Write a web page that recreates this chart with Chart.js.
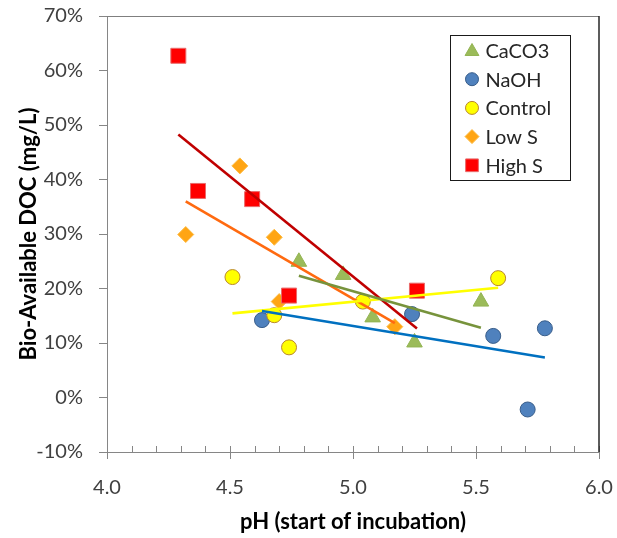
<!DOCTYPE html>
<html>
<head>
<meta charset="utf-8">
<title>Bio-Available DOC vs pH</title>
<script src="https://cdn.jsdelivr.net/npm/chart.js"></script>
<style>
  html, body { margin: 0; padding: 0; background: #ffffff; }
  canvas { display: block; }
</style>
</head>
<body>
<canvas id="docChart" width="617" height="538"></canvas>
<script>
// pH at the start of incubation and bio-available DOC (%) per treatment
var caco3PH   = [4.78, 4.96, 5.08, 5.25, 5.52];
var caco3DOC  = [24.9, 22.5, 14.7, 10.1, 17.6];
var naohPH    = [4.63, 5.24, 5.57, 5.71, 5.78];
var naohDOC   = [14.2, 15.3, 11.3, -2.2, 12.7];
var controlPH = [4.51, 4.68, 4.74, 5.04, 5.59];
var controlDOC = [22.1, 15.1, 9.2, 17.6, 21.9];
var lowSPH    = [4.32, 4.54, 4.68, 4.70, 5.17];
var lowSDOC   = [29.9, 42.5, 29.4, 17.6, 13.0];
var highSPH   = [4.29, 4.37, 4.59, 4.74, 5.26];
var highSDOC  = [62.7, 37.9, 36.4, 18.7, 19.6];

var xTicks = { min: 4.0, max: 6.0, step: 0.1, labelEvery: 0.5 };
var yTicks = { min: -10, max: 70, step: 10 };

var FONT = 'Lato, "Open Sans", sans-serif';
var AXIS_GRAY = '#868686';

// marker and trendline look for each treatment
var series = [
  { label: 'CaCO3',   x: caco3PH,   y: caco3DOC,   shape: 'triangle', r: 9,    fill: '#9BBB59', edge: '#93B453', trend: '#77933C', lr: 8 },
  { label: 'NaOH',    x: naohPH,    y: naohDOC,    shape: 'circle',   r: 7.5,  fill: '#4F81BD', edge: '#385D8A', trend: '#0070C0', lr: 6.5 },
  { label: 'Control', x: controlPH, y: controlDOC, shape: 'circle',   r: 7.5,  fill: '#FFFF00', edge: '#B8862E', trend: '#FFFF00', lr: 6.5 },
  { label: 'Low S',   x: lowSPH,    y: lowSDOC,    shape: 'rectRot',  r: 8,    fill: '#FFA514', edge: '#FDBB44', trend: '#FF6A10', lr: 7 },
  { label: 'High S',  x: highSPH,   y: highSDOC,   shape: 'rect',     r: 10.6, fill: '#FF0000', edge: '#E96A6A', trend: '#C00000', lr: 9 }
];

function toPoints(xs, ys) {
  return xs.map(function (v, i) { return { x: v, y: ys[i] }; });
}

// least-squares trendline spanning the series' pH range
function fitLine(xs, ys) {
  var n = xs.length, mx = 0, my = 0, sxy = 0, sxx = 0;
  for (var i = 0; i < n; i++) { mx += xs[i]; my += ys[i]; }
  mx /= n; my /= n;
  for (var j = 0; j < n; j++) {
    sxy += (xs[j] - mx) * (ys[j] - my);
    sxx += (xs[j] - mx) * (xs[j] - mx);
  }
  var b = sxy / sxx, a = my - b * mx;
  var x0 = Math.min.apply(null, xs), x1 = Math.max.apply(null, xs);
  return [{ x: x0, y: a + b * x0 }, { x: x1, y: a + b * x1 }];
}

function isLabelled(v) {
  var k = v / xTicks.labelEvery;
  return Math.abs(k - Math.round(k)) < 1e-6;
}

var datasets = [];
series.forEach(function (s, i) {
  datasets.push({
    type: 'scatter',
    label: s.label,
    data: toPoints(s.x, s.y),
    pointStyle: s.shape,
    pointRadius: s.r,
    pointHoverRadius: s.r,
    pointBackgroundColor: s.fill,
    pointBorderColor: s.edge,
    pointBorderWidth: 1,
    order: series.length - i
  });
});
series.forEach(function (s) {
  datasets.push({
    type: 'line',
    label: s.label + ' trend',
    data: fitLine(s.x, s.y),
    borderColor: s.trend,
    borderWidth: 2.6,
    pointRadius: 0,
    fill: false,
    order: 0
  });
});

// frame, inward minor ticks on the x axis, and the boxed legend
var frameAndLegend = {
  id: 'frameAndLegend',
  afterDraw: function (chart) {
    var ctx = chart.ctx, area = chart.chartArea, xs = chart.scales.x;
    ctx.save();

    ctx.strokeStyle = AXIS_GRAY;
    ctx.lineWidth = 1;
    xs.ticks.forEach(function (t) {
      var px = Math.round(xs.getPixelForValue(t.value)) + 0.5;
      ctx.beginPath();
      ctx.moveTo(px, area.bottom);
      ctx.lineTo(px, area.bottom - 6);
      ctx.stroke();
    });

    ctx.beginPath();
    ctx.strokeStyle = '#7F7F7F';
    ctx.moveTo(area.left, area.top + 0.5);
    ctx.lineTo(area.right, area.top + 0.5);
    ctx.stroke();
    ctx.beginPath();
    ctx.strokeStyle = '#262626';
    ctx.lineWidth = 1.5;
    ctx.moveTo(area.right, area.top);
    ctx.lineTo(area.right, area.bottom);
    ctx.stroke();

    var boxW = 120, boxH = 145;
    var bx = area.right - 29 - boxW + 0.5, by = area.top + 19 + 0.5;
    ctx.fillStyle = '#ffffff';
    ctx.fillRect(bx, by, boxW, boxH);
    ctx.strokeStyle = '#1a1a1a';
    ctx.lineWidth = 1;
    ctx.strokeRect(bx, by, boxW, boxH);

    ctx.font = '20px ' + FONT;
    ctx.textBaseline = 'middle';
    ctx.textAlign = 'left';
    series.forEach(function (s, i) {
      var cy = by + 15 + i * 28.7;
      var cx = bx + 21.5;
      ctx.fillStyle = s.fill;
      ctx.strokeStyle = s.edge;
      ctx.lineWidth = 1;
      Chart.helpers.drawPoint(ctx, { pointStyle: s.shape, radius: s.lr, rotation: 0, borderWidth: 1 }, cx, cy + (s.shape === 'triangle' ? 1 : 0));
      ctx.fillStyle = '#262626';
      ctx.fillText(s.label, bx + 35, cy + 1);
    });
    ctx.restore();
  }
};

new Chart(document.getElementById('docChart').getContext('2d'), {
  type: 'scatter',
  data: { datasets: datasets },
  options: {
    responsive: false,
    animation: false,
    layout: { padding: { left: 0, top: 16, right: 18, bottom: 0 } },
    plugins: {
      legend: { display: false },
      tooltip: { enabled: false }
    },
    scales: {
      x: {
        type: 'linear',
        min: xTicks.min,
        max: xTicks.max,
        afterFit: function (scale) {
          scale.height = 86;
          scale.paddingLeft = 0;
          scale.paddingRight = 0;
        },
        border: { color: AXIS_GRAY, width: 1 },
        grid: {
          drawOnChartArea: false,
          drawTicks: true,
          tickLength: 7,
          tickColor: function (c) { return c.tick && isLabelled(c.tick.value) ? AXIS_GRAY : 'rgba(0,0,0,0)'; }
        },
        ticks: {
          stepSize: xTicks.step,
          autoSkip: false,
          maxRotation: 0,
          padding: 17,
          color: '#404040',
          font: { family: FONT, size: 20 },
          callback: function (v) { return isLabelled(v) ? Number(v).toFixed(1) : ''; }
        },
        title: {
          display: true,
          text: 'pH (start of incubation)',
          color: '#000000',
          font: { family: FONT, size: 22, weight: 'bold' },
          padding: { top: 0, bottom: 3 }
        }
      },
      y: {
        type: 'linear',
        min: yTicks.min,
        max: yTicks.max,
        afterFit: function (scale) {
          scale.width = 107;
          scale.paddingTop = 0;
          scale.paddingBottom = 0;
        },
        border: { color: AXIS_GRAY, width: 1 },
        grid: {
          drawOnChartArea: false,
          drawTicks: true,
          tickLength: 8,
          tickColor: AXIS_GRAY
        },
        ticks: {
          stepSize: yTicks.step,
          padding: 16,
          color: '#404040',
          font: { family: FONT, size: 20 },
          callback: function (v) { return v + '%'; }
        },
        title: {
          display: true,
          text: 'Bio-Available DOC (mg/L)',
          color: '#000000',
          font: { family: FONT, size: 22, weight: 'bold' },
          padding: { top: 16, bottom: 0 }
        }
      }
    }
  },
  plugins: [frameAndLegend]
});
</script>
</body>
</html>
